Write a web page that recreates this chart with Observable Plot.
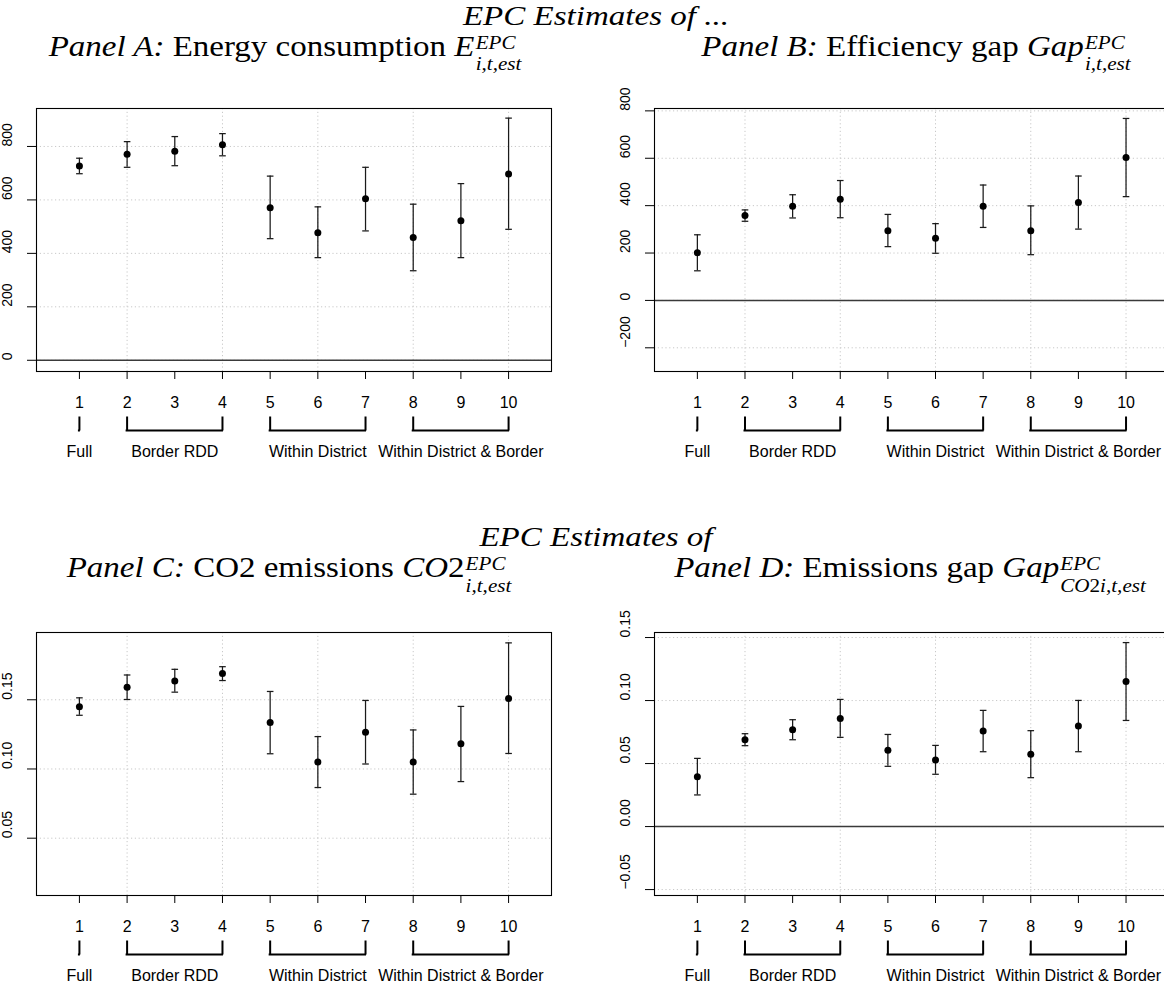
<!DOCTYPE html>
<html>
<head>
<meta charset="utf-8">
<script src="https://cdn.jsdelivr.net/npm/d3@7"></script>
<script src="https://cdn.jsdelivr.net/npm/@observablehq/plot@0.6"></script>
<style>
  html, body { margin: 0; padding: 0; background: #fff; }
  #wrap { position: relative; width: 1164px; height: 986px; overflow: hidden; background: #fff; }
  .panel { position: absolute; }
  .panel svg { max-width: none !important; display: block; }
  .title { position: absolute; font-family: "Liberation Serif", "Times New Roman", serif; font-size: 30px; line-height: 1; white-space: nowrap; text-align: center; width: 800px; color: #000; transform: scaleX(1.1); transform-origin: 50% 50%; }
  .title.main { font-size: 28px; transform: scaleX(1.18); }
  .ss { display: inline-flex; flex-direction: column; font-style: italic; font-size: 0.64em; vertical-align: 0.365em; line-height: 1.11; margin-left: 1px; text-align: left; }
  .ss span { display: block; }
</style>
</head>
<body>
<div id="wrap">
  <div class="title main" id="t1"><i>EPC Estimates of ...</i></div>
  <div class="title" id="tA"><i>Panel A:</i> Energy consumption <i>E</i><span class="ss"><span>EPC</span><span>i,t,est</span></span></div>
  <div class="title" id="tB"><i>Panel B:</i> Efficiency gap <i>Gap</i><span class="ss"><span>EPC</span><span>i,t,est</span></span></div>
  <div class="title main" id="t2"><i>EPC Estimates of</i></div>
  <div class="title" id="tC"><i>Panel C:</i> CO2 emissions <i>CO</i>2<span class="ss"><span>EPC</span><span>i,t,est</span></span></div>
  <div class="title" id="tD"><i>Panel D:</i> Emissions gap <i>Gap</i><span class="ss"><span>EPC</span><span><i>CO</i><span style="display:inline;font-style:normal">2</span>i,t,est</span></span></div>
  <div class="panel" id="pA"></div>
  <div class="panel" id="pB"></div>
  <div class="panel" id="pC"></div>
  <div class="panel" id="pD"></div>
</div>
<script>
// ---- data ----
const xs = [1, 2, 3, 4, 5, 6, 7, 8, 9, 10];
const gridXs = [2, 4, 6, 8, 10];
const groupLabels = ["Full", "Border RDD", "Within District", "Within District & Border"];
const groupStart = [1, 2, 5, 8];
const groupEnd = [1, 4, 7, 10];

const energyEst = [727, 771, 782, 806, 571, 477, 604, 459, 522, 697];
const energyLo  = [698, 722, 728, 765, 455, 384, 484, 335, 384, 490];
const energyHi  = [756, 818, 837, 848, 689, 574, 722, 584, 661, 906];
const energyTicks = [0, 200, 400, 600, 800];

const gapEst = [201, 358, 397, 427, 294, 262, 397, 294, 413, 603];
const gapLo  = [125, 334, 348, 349, 227, 199, 308, 193, 301, 438];
const gapHi  = [277, 382, 446, 506, 363, 324, 487, 399, 525, 768];
const gapTicks = [-200, 0, 200, 400, 600, 800];

const co2Est = [0.1450, 0.1591, 0.1636, 0.1689, 0.1335, 0.1050, 0.1266, 0.1050, 0.1182, 0.1510];
const co2Lo  = [0.1388, 0.1502, 0.1555, 0.1639, 0.1110, 0.0866, 0.1036, 0.0818, 0.0909, 0.1112];
const co2Hi  = [0.1514, 0.1679, 0.1720, 0.1739, 0.1560, 0.1234, 0.1495, 0.1282, 0.1452, 0.1911];
const co2Ticks = [0.05, 0.10, 0.15];

const co2GapEst = [0.0396, 0.0689, 0.0768, 0.0858, 0.0605, 0.0528, 0.0758, 0.0573, 0.0798, 0.1151];
const co2GapLo  = [0.0251, 0.0642, 0.0689, 0.0708, 0.0478, 0.0415, 0.0594, 0.0388, 0.0594, 0.0842];
const co2GapHi  = [0.0541, 0.0737, 0.0848, 0.1009, 0.0731, 0.0644, 0.0922, 0.0761, 0.1001, 0.1460];
const co2GapTicks = [-0.05, 0, 0.05, 0.10, 0.15];

// ---- layout ----
function placeTitle(id, cx, baseline, fs) {
  const el = document.getElementById(id);
  el.style.left = (cx - 400) + "px";
  el.style.top = (baseline - 0.836 * fs) + "px";
}
placeTitle("t1", 596, 25.5, 28);
placeTitle("tA", 285, 56, 30);
placeTitle("tB", 916, 56, 30);
placeTitle("t2", 596, 546, 28);
placeTitle("tC", 289, 577.5, 30);
placeTitle("tD", 910, 577.5, 30);

const hCap = {draw(ctx) { ctx.moveTo(-3.3, 0); ctx.lineTo(3.3, 0); }};
const vTick = {draw(ctx) { ctx.moveTo(0, 0); ctx.lineTo(0, 14); }};
const minus = (s) => s.replace("-", "\u2212");

function panel(est, lo, hi, domain, yticks, yfmt, zeroLine, dims) {
  const rows = xs.map((x, i) => ({x, est: est[i], lo: lo[i], hi: hi[i]}));
  const groups = groupLabels.map((label, i) => ({label, start: groupStart[i], end: groupEnd[i], mid: (groupStart[i] + groupEnd[i]) / 2}));
  const ends = groups.flatMap(g => g.start === g.end ? [g.start] : [g.start, g.end]);
  const y0 = domain[0];
  const eb = {stroke: "#1a1a1a", strokeWidth: 1.25};
  return Plot.plot({
    width: dims.width, height: 376,
    marginLeft: dims.marginLeft, marginRight: dims.marginRight, marginTop: 18, marginBottom: 95,
    style: {background: "transparent", fontFamily: "'Liberation Sans', Arial, sans-serif", color: "#000", overflow: "visible"},
    x: {domain: [0.1, 10.9], label: null},
    y: {domain, label: null},
    marks: [
      Plot.gridX(gridXs, {stroke: "#c8c8c8", strokeOpacity: 1, strokeDasharray: "1.2,2.6"}),
      Plot.gridY(yticks, {stroke: "#c8c8c8", strokeOpacity: 1, strokeDasharray: "1.2,2.6"}),
      zeroLine ? Plot.ruleY([0], {stroke: "#3a3a3a", strokeWidth: 1.5}) : null,
      Plot.ruleX(rows, {x: "x", y1: "lo", y2: "hi", ...eb}),
      Plot.dot(rows, {x: "x", y: "hi", symbol: hCap, ...eb}),
      Plot.dot(rows, {x: "x", y: "lo", symbol: hCap, ...eb}),
      Plot.dot(rows, {x: "x", y: "est", r: 3.5, fill: "#000", stroke: null}),
      Plot.frame({stroke: "#000", strokeWidth: 1.1}),
      Plot.axisX(xs, {tickSize: 8, tickPadding: 17, fontSize: 16, tickFormat: d => String(d), label: null}),
      Plot.axisY(yticks, {tickSize: 9, tickFormat: () => "", label: null}),
      Plot.text(yticks, {y: d => d, text: yfmt, frameAnchor: "left", dx: -29, rotate: -90, fontSize: 14, fill: "#000"}),
      Plot.dot(ends, {x: d => d, y: () => y0, symbol: vTick, dy: 45, stroke: "#000", strokeWidth: 2}),
      Plot.ruleY(groups, {x1: "start", x2: "end", y: () => y0, dy: 59, stroke: "#000", strokeWidth: 2, insetLeft: -1, insetRight: -1}),
      Plot.text(groups, {x: "mid", y: () => y0, dy: 80, text: "label", fontSize: 16, fill: "#000"})
    ]
  });
}

const leftDims = {width: 582, marginLeft: 36, marginRight: 31};
const rightDims = {width: 600, marginLeft: 72, marginRight: 13.6};
const fmtInt = d => minus(String(d));
const fmt2 = d => minus(d.toFixed(2));

function mount(id, node, left, top, width) {
  const el = document.getElementById(id);
  el.style.left = left + "px";
  el.style.top = top + "px";
  el.style.width = width + "px";
  el.appendChild(node);
}
mount("pA", panel(energyEst, energyLo, energyHi, [-42, 942], energyTicks, fmtInt, true, leftDims), 0, 90, 582);
mount("pB", panel(gapEst, gapLo, gapHi, [-300, 810], gapTicks, fmtInt, true, rightDims), 582, 90, 600);
mount("pC", panel(co2Est, co2Lo, co2Hi, [0.0086, 0.1986], co2Ticks, fmt2, false, leftDims), 0, 614, 582);
mount("pD", panel(co2GapEst, co2GapLo, co2GapHi, [-0.0547, 0.154], co2GapTicks, fmt2, true, rightDims), 582, 614, 600);
</script>
</body>
</html>
